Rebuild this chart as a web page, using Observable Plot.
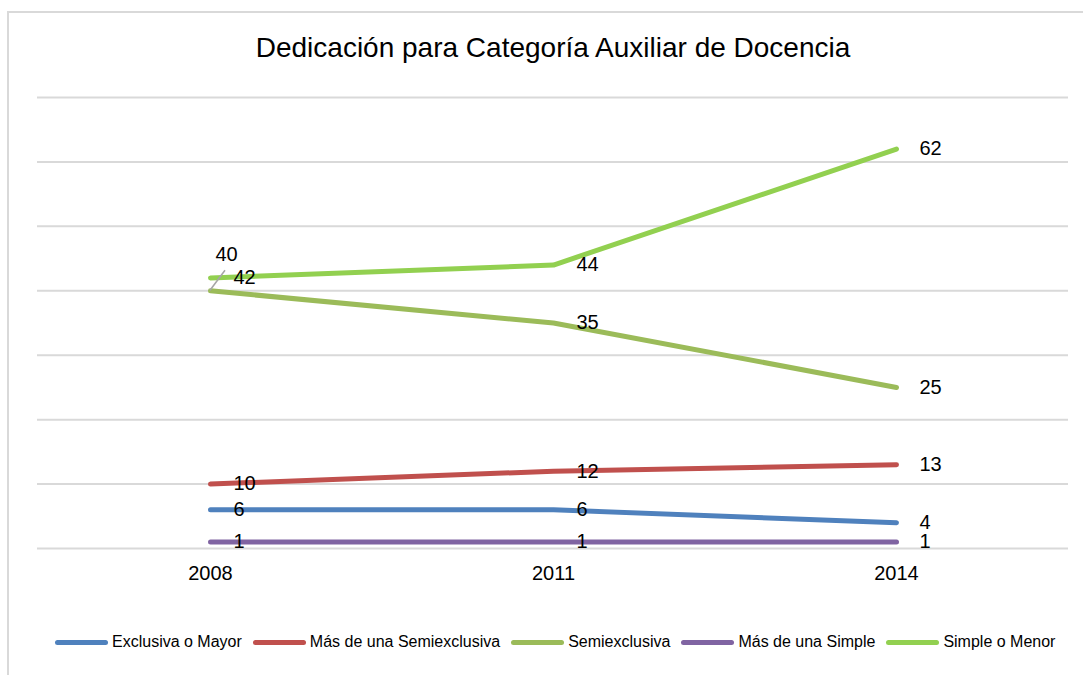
<!DOCTYPE html>
<html>
<head>
<meta charset="utf-8">
<script src="https://cdn.jsdelivr.net/npm/d3@7"></script>
<script src="https://cdn.jsdelivr.net/npm/@observablehq/plot@0.6"></script>
<style>
  html, body { margin: 0; padding: 0; background: #fff; }
  body { width: 1083px; height: 675px; overflow: hidden; font-family: "Liberation Sans", Arial, sans-serif; }
  #wrap { position: relative; width: 1083px; height: 675px; overflow: hidden; }
  #frame { position: absolute; left: 7px; top: 11px; width: 1200px; height: 800px; border: 2px solid #d9d9d9; box-sizing: border-box; }
  #title { position: absolute; left: 0; top: 31px; width: 1106px; text-align: center; font-size: 28px; color: #000; line-height: 34px; }
  #chart { position: absolute; left: 0; top: 80px; }
  #legend { position: absolute; left: 55px; top: 633px; display: flex; align-items: center; font-size: 16px; color: #000; white-space: nowrap; }
  .item { display: flex; align-items: center; margin-right: 11px; }
  .sw { width: 53px; height: 5px; border-radius: 3px; margin-right: 4px; }
</style>
</head>
<body>
<div id="wrap">
  <div id="frame"></div>
  <div id="title">Dedicación para Categoría Auxiliar de Docencia</div>
  <div id="chart"></div>
  <div id="legend"></div>
</div>
<script>
const years = ["2008", "2011", "2014"];
const seriesNames = ["Exclusiva o Mayor", "Más de una Semiexclusiva", "Semiexclusiva", "Más de una Simple", "Simple o Menor"];
const seriesColors = ["#4f81bd", "#c0504d", "#9bbb59", "#8064a2", "#92d050"];
const exclusivaOMayor = [6, 6, 4];
const masDeUnaSemiexclusiva = [10, 12, 13];
const semiexclusiva = [40, 35, 25];
const masDeUnaSimple = [1, 1, 1];
const simpleOMenor = [42, 44, 62];
const yTicks = [0, 10, 20, 30, 40, 50, 60, 70];

const seriesValues = [exclusivaOMayor, masDeUnaSemiexclusiva, semiexclusiva, masDeUnaSimple, simpleOMenor];
const rows = [];
seriesNames.forEach((s, i) => {
  years.forEach((y, j) => rows.push({series: s, year: y, value: seriesValues[i][j]}));
});
const isSpecial = d => d.series === "Semiexclusiva" && d.year === "2008";

const plot = Plot.plot({
  width: 1083,
  height: 520,
  marginTop: 17,
  marginBottom: 52,
  marginLeft: 37,
  marginRight: 15,
  style: {fontFamily: "Liberation Sans, Arial, sans-serif", background: "transparent"},
  x: {type: "point", domain: years, padding: 0.5, label: null},
  y: {domain: [0, 70], label: null, axis: null},
  color: {domain: seriesNames, range: seriesColors},
  marks: [
    Plot.ruleY(yTicks, {stroke: "#d9d9d9", strokeWidth: 2}),
    Plot.axisX({tickSize: 0, tickPadding: 17, fontSize: 20, fill: "#000", label: null}),
    Plot.line(rows, {x: "year", y: "value", z: "series", stroke: "series", strokeWidth: 5, strokeLinecap: "round", strokeLinejoin: "round"}),
    Plot.text(rows.filter(d => !isSpecial(d)), {x: "year", y: "value", text: d => String(d.value), dx: 23, textAnchor: "start", fontSize: 20, fill: "#000"}),
    Plot.text(rows.filter(isSpecial), {x: "year", y: "value", text: d => String(d.value), dx: 16, dy: -36, textAnchor: "middle", fontSize: 20, fill: "#000"})
  ]
});
document.getElementById("chart").appendChild(plot);

// leader line for the displaced "40" label, positioned via the plot's own scales
const sp = rows.find(isSpecial);
const px = plot.scale("x").apply(sp.year);
const py = plot.scale("y").apply(sp.value);
d3.select(plot).append("line")
  .attr("x1", px).attr("y1", py)
  .attr("x2", px + 15).attr("y2", py - 20)
  .attr("stroke", "#a6a6a6").attr("stroke-width", 1.5);

const legend = document.getElementById("legend");
seriesNames.forEach((s, i) => {
  const it = document.createElement("div");
  it.className = "item";
  const sw = document.createElement("div");
  sw.className = "sw";
  sw.style.background = seriesColors[i];
  const t = document.createElement("span");
  t.textContent = s;
  it.appendChild(sw);
  it.appendChild(t);
  legend.appendChild(it);
});
</script>
</body>
</html>
